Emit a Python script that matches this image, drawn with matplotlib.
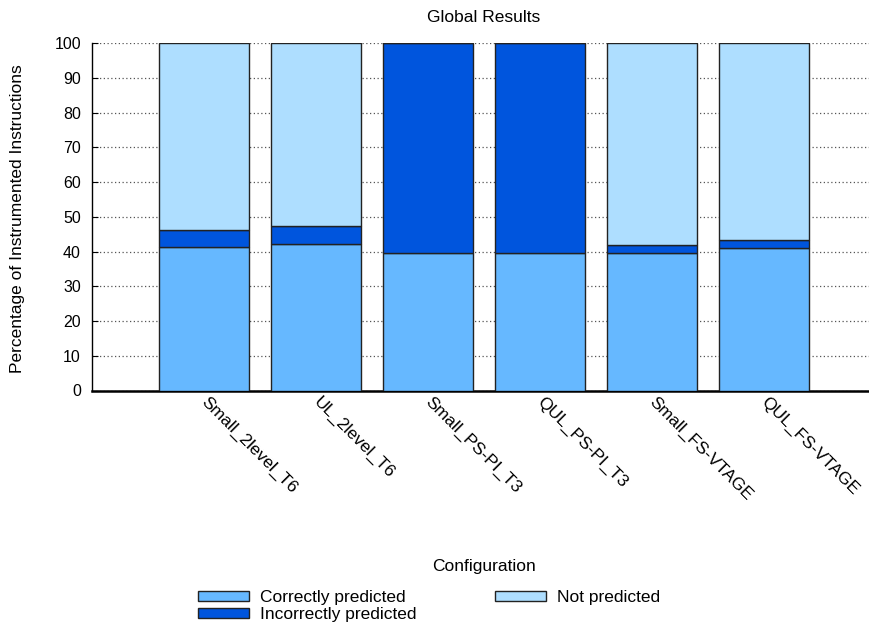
import matplotlib.pyplot as plt
import matplotlib.transforms as mtransforms
import numpy as np

plt.rcParams['font.family'] = ['Liberation Sans', 'DejaVu Sans']

# ── Data ─────────────────────────────────────────────────────────────────────
configs = ['Small_2level_T6', 'UL_2level_T6', 'Small_PS-PI_T3',
           'QUL_PS-PI_T3', 'Small_FS-VTAGE', 'QUL_FS-VTAGE']
correct   = [41.3, 42.3, 39.7, 39.5, 39.7, 41.0]
incorrect = [5.0, 5.0, 60.3, 60.5, 2.3, 2.3]
not_pred  = [53.7, 52.7, 0.0, 0.0, 58.0, 56.7]

C_CORRECT   = '#66B8FF'
C_INCORRECT = '#0055DD'
C_NOTPRED   = '#AEDEFF'

FS = 12.5

# ── Figure ───────────────────────────────────────────────────────────────────
W, H = 869, 627
fig = plt.figure(figsize=(W / 100, H / 100), dpi=100)
ax = fig.add_axes([92 / W, 1 - 390.5 / H, (876 - 92) / W, (390.5 - 43.3) / H])

x = np.arange(1, len(configs) + 1)
correct = np.array(correct)
incorrect = np.array(incorrect)
not_pred = np.array(not_pred)

kw = dict(width=0.8, edgecolor='#222222', linewidth=1.0, zorder=3)
ax.bar(x, correct, color=C_CORRECT, label='Correctly predicted', **kw)
ax.bar(x, incorrect, bottom=correct, color=C_INCORRECT,
       label='Incorrectly predicted', **kw)
ax.bar(x, not_pred, bottom=correct + incorrect, color=C_NOTPRED,
       label='Not predicted', **kw)

ax.set_xlim(0, 7)
ax.set_ylim(0, 100)
ax.set_yticks(np.arange(0, 101, 10))
ax.set_xticks(x)
ax.set_xticklabels(configs, rotation=-45, ha='left', va='top',
                   rotation_mode='anchor', fontsize=FS)
ax.tick_params(axis='x', length=0, pad=3)
ax.tick_params(axis='y', direction='in', length=4, labelsize=11.5, pad=8)

# small shift so labels start right at the bar centre
shift = mtransforms.ScaledTranslation(5 / 100, 0, fig.dpi_scale_trans)
for lbl in ax.get_xticklabels():
    lbl.set_transform(lbl.get_transform() + shift)

ax.grid(True, axis='y', linestyle=(0, (1, 2)), color='#555555',
        linewidth=0.9, zorder=0)
for s in ['top', 'right']:
    ax.spines[s].set_visible(False)
ax.spines['bottom'].set_linewidth(1.8)
ax.spines['left'].set_linewidth(1.0)

fig.text(484 / W, 1 - 18 / H, 'Global Results', ha='center', va='center',
         fontsize=FS)
fig.text(18 / W, 1 - 219 / H, 'Percentage of Instrumented Instructions',
         rotation=90, ha='center', va='center', fontsize=FS)
fig.text(484 / W, 1 - 567 / H, 'Configuration', ha='center', va='center',
         fontsize=FS)

leg = fig.legend(loc='upper left', bbox_to_anchor=(198 / W, 1 - 590 / H),
                 ncol=2, frameon=False, fontsize=FS, handlelength=2.95,
                 handleheight=0.5, labelspacing=0.12, columnspacing=4.55,
                 handletextpad=0.6, borderpad=0, borderaxespad=0)

fig.savefig('out.png', dpi=100)
